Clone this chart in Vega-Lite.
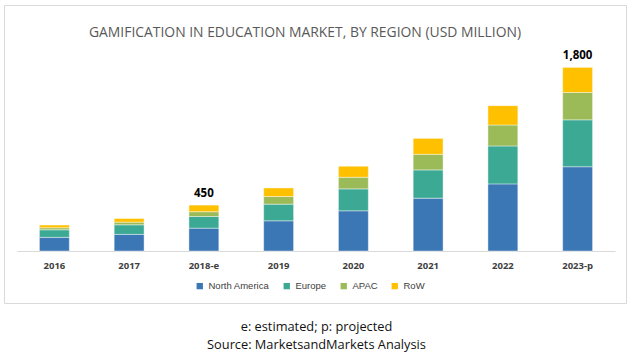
{
  "$schema": "https://vega.github.io/schema/vega-lite/v6.json",
  "width": 622,
  "height": 298,
  "autosize": {"type": "none"},
  "padding": {"left": 4, "top": 5, "right": 7, "bottom": 52},
  "background": "white",
  "config": {"view": {"stroke": "#d9d9d9", "strokeWidth": 1}, "font": "Open Sans"},
  "title": {
    "text": "GAMIFICATION IN EDUCATION MARKET, BY REGION (USD MILLION)",
    "fontSize": 13.9,
    "fontWeight": "normal",
    "color": "#595959",
    "font": "Open Sans",
    "anchor": "middle",
    "offset": -35,
    "dx": -10
  },
  "datasets": {
    "market": [
      {"year": "2016", "region": "North America", "value": 134},
      {"year": "2016", "region": "Europe", "value": 74},
      {"year": "2016", "region": "APAC", "value": 20},
      {"year": "2016", "region": "RoW", "value": 26},
      {"year": "2017", "region": "North America", "value": 163},
      {"year": "2017", "region": "Europe", "value": 94},
      {"year": "2017", "region": "APAC", "value": 26},
      {"year": "2017", "region": "RoW", "value": 36},
      {"year": "2018-e", "region": "North America", "value": 224},
      {"year": "2018-e", "region": "Europe", "value": 114},
      {"year": "2018-e", "region": "APAC", "value": 47},
      {"year": "2018-e", "region": "RoW", "value": 65},
      {"year": "2019", "region": "North America", "value": 296},
      {"year": "2019", "region": "Europe", "value": 163},
      {"year": "2019", "region": "APAC", "value": 75},
      {"year": "2019", "region": "RoW", "value": 84},
      {"year": "2020", "region": "North America", "value": 394},
      {"year": "2020", "region": "Europe", "value": 215},
      {"year": "2020", "region": "APAC", "value": 114},
      {"year": "2020", "region": "RoW", "value": 108},
      {"year": "2021", "region": "North America", "value": 518},
      {"year": "2021", "region": "Europe", "value": 277},
      {"year": "2021", "region": "APAC", "value": 153},
      {"year": "2021", "region": "RoW", "value": 156},
      {"year": "2022", "region": "North America", "value": 658},
      {"year": "2022", "region": "Europe", "value": 372},
      {"year": "2022", "region": "APAC", "value": 205},
      {"year": "2022", "region": "RoW", "value": 190},
      {"year": "2023-p", "region": "North America", "value": 826},
      {"year": "2023-p", "region": "Europe", "value": 460},
      {"year": "2023-p", "region": "APAC", "value": 268},
      {"year": "2023-p", "region": "RoW", "value": 246}
    ],
    "totals": [
      {"year": "2018-e", "total": 450, "label": "450"},
      {"year": "2023-p", "total": 1800, "label": "1,800"}
    ]
  },
  "layer": [
    {
      "data": {"name": "market"},
      "transform": [
        {"calculate": "indexof(['North America','Europe','APAC','RoW'], datum.region)", "as": "regionOrder"}
      ],
      "mark": {"type": "bar", "stroke": "white", "strokeWidth": 0.6, "strokeOpacity": 0.7},
      "encoding": {
        "x": {
          "field": "year",
          "type": "nominal",
          "sort": null,
          "scale": {"range": [13, 611], "paddingInner": 0.6, "paddingOuter": 0.3},
          "axis": {
            "orient": "bottom",
            "offset": -52,
            "domainColor": "#d9d9d9",
            "domainWidth": 1,
            "ticks": false,
            "labelAngle": 0,
            "labelFont": "Open Sans",
            "labelFontWeight": "bold",
            "labelFontSize": 9.5,
            "labelColor": "#404040",
            "labelPadding": 9,
            "title": ["e: estimated; p: projected", "Source: MarketsandMarkets Analysis"],
            "titleFont": "Open Sans",
            "titleFontSize": 12.8,
            "titleFontWeight": "normal",
            "titleColor": "#111111",
            "titlePadding": 51,
            "titleLineHeight": 17.5
          }
        },
        "y": {
          "field": "value",
          "type": "quantitative",
          "stack": "zero",
          "scale": {"domain": [0, 1800], "range": [246, 62.4]},
          "axis": null
        },
        "color": {
          "field": "region",
          "type": "nominal",
          "scale": {
            "domain": ["North America", "Europe", "APAC", "RoW"],
            "range": ["#3B76B5", "#3BA994", "#9BBB59", "#FFC000"]
          },
          "legend": {
            "orient": "none",
            "legendX": 191,
            "legendY": 276,
            "direction": "horizontal",
            "title": null,
            "symbolType": "square",
            "symbolSize": 40,
            "symbolStrokeWidth": 0,
            "labelFont": "Liberation Sans",
            "labelFontSize": 9.5,
            "labelColor": "#404040",
            "labelOffset": 4,
            "columnPadding": 12,
            "padding": 0
          }
        },
        "order": {"field": "regionOrder", "type": "quantitative"}
      }
    },
    {
      "data": {"name": "totals"},
      "mark": {"type": "text", "baseline": "bottom", "dy": -6, "font": "Open Sans", "fontWeight": "bold", "fontSize": 11.5, "color": "#000000"},
      "encoding": {
        "x": {"field": "year", "type": "nominal", "sort": null},
        "y": {"field": "total", "type": "quantitative"},
        "text": {"field": "label"}
      }
    }
  ]
}
